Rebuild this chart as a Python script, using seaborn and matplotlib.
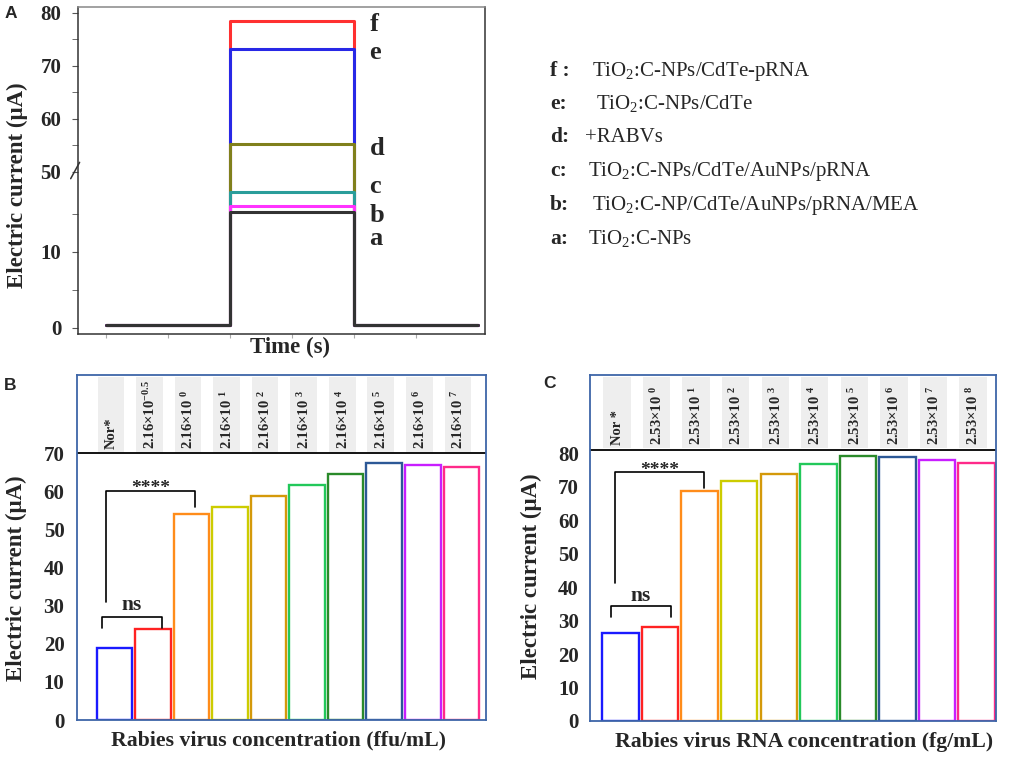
import numpy as np
import pandas as pd
import matplotlib
matplotlib.use("Agg")
import matplotlib.pyplot as plt
import seaborn as sns

# ---- panel A: photocurrent of each electrode stage (light on from t=2 to t=4) ----
curve_ids = ['f', 'e', 'd', 'c', 'b', 'a']
curve_on = [78.4, 73.1, 55.3, 17.9, 16.0, 15.2]
curve_off = 0.4
light_on, light_off, t_end = 2, 4, 6
curve_colors = ['#ff3030', '#2828e6', '#80801c', '#2a9d9a', '#ff33ff', '#333333']
curve_label_y = [76.5, 71.3, 53.2, 17.7, 13.9, 10.9]
curve_text = ['TiO$_\\mathregular{2}$:C-NPs/CdTe-pRNA',
              'TiO$_\\mathregular{2}$:C-NPs/CdTe',
              '+RABVs',
              'TiO$_\\mathregular{2}$:C-NPs/CdTe/AuNPs/pRNA',
              'TiO$_\\mathregular{2}$:C-NP/CdTe/AuNPs/pRNA/MEA',
              'TiO$_\\mathregular{2}$:C-NPs']
curve_keys = ['f :', 'e:', 'd:', 'c:', 'b:', 'a:']

# ---- panel B: virus concentration ----
b_groups = ['Nor*', '2.16×10$^{\\mathregular{-0.5}}$'] + \
           ['2.16×10 $^{\\mathregular{%d}}$' % k for k in range(0, 8)]
b_current = [19.0, 23.8, 54.0, 55.9, 58.7, 61.7, 64.6, 67.5, 66.8, 66.3]

# ---- panel C: viral RNA concentration ----
c_groups = ['Nor *'] + ['2.53×10 $^{\\mathregular{%d}}$' % k for k in range(0, 9)]
c_current = [26.2, 28.2, 68.7, 71.6, 73.6, 76.7, 79.2, 78.9, 78.0, 77.1]

bar_colors = ['#1a1aff', '#ff2222', '#ff8c1a', '#cccc00', '#d4990a',
              '#22c85a', '#2a8a2a', '#2c5896', '#c81eff', '#ff2a8a']

sns.set_style("ticks")
plt.rcParams['font.family'] = ['Liberation Serif', 'DejaVu Serif']
plt.rcParams['mathtext.fontset'] = 'custom'
plt.rcParams['mathtext.rm'] = 'Liberation Serif'
plt.rcParams['mathtext.it'] = 'Liberation Serif:italic'
plt.rcParams['mathtext.bf'] = 'Liberation Serif:bold'

W, H = 1013, 757
fig = plt.figure(figsize=(W / 100, H / 100), dpi=100)


def fx(px):
    return px / W


def fy(px):
    return 1 - px / H


# ---------------- panel A ----------------
rows = []
for cid, on in zip(curve_ids, curve_on):
    times = [0, light_on, light_on, light_off, light_off, t_end]
    vals = [curve_off, curve_off, on, on, curve_off, curve_off]
    for t, v in zip(times, vals):
        rows.append({'time': t, 'current': v, 'curve': cid})
df_a = pd.DataFrame(rows)

axa = fig.add_axes([fx(78), fy(334), fx(407), 327 / H])
sns.lineplot(data=df_a, x='time', y='current', hue='curve', hue_order=curve_ids,
             palette=dict(zip(curve_ids, curve_colors)), estimator=None, sort=False,
             linewidth=2.2, legend=False, ax=axa)


# broken y axis: 20-50 squeezed into a few pixels
def fwd(v):
    v = np.asarray(v, dtype=float)
    return np.where(v <= 20, 7.6 * v,
                    np.where(v <= 50, 152 + (v - 20) * 4 / 30, 156 + (v - 50) * 5.3))


def inv(s):
    s = np.asarray(s, dtype=float)
    return np.where(s <= 152, s / 7.6,
                    np.where(s <= 156, 20 + (s - 152) * 30 / 4, 50 + (s - 156) / 5.3))


axa.set_yscale('function', functions=(fwd, inv))
axa.set_ylim(-0.8, 81.1)
axa.set_xlim(-0.45, 6.11)
axa.set_yticks([0, 10, 50, 60, 70, 80])
axa.set_yticks([5, 15, 55, 65, 75], minor=True)
axa.set_yticklabels(['0', '10', '50', '60', '70', '80'])
axa.set_xticks(range(0, 6))
axa.set_xticklabels([])
axa.tick_params(axis='y', which='both', direction='out', length=4, color='#555555',
                labelsize=15, pad=8)
axa.tick_params(axis='x', direction='out', length=3, color='#aaaaaa')
for lab in axa.get_yticklabels():
    lab.set_fontweight('bold')
axa.set_xlabel('')
axa.set_ylabel('')
for side, sp in axa.spines.items():
    sp.set_visible(True)
    sp.set_color('#888888' if side == 'top' else '#333333')
    sp.set_linewidth(1.1)
axa.plot([-0.018, 0.004], [0.475, 0.525], transform=axa.transAxes, color='#333333',
         lw=1.1, clip_on=False)

for cid, ly in zip(curve_ids, curve_label_y):
    axa.text(4.25, ly, cid, ha='left', va='baseline', fontsize=19, fontweight='bold')

fig.text(fx(17), fy(185), 'Electric current (μA)', rotation=90, ha='center', va='center',
         fontsize=16.5, fontweight='bold')
fig.text(fx(290), fy(347), 'Time (s)', ha='center', va='center', fontsize=16.5,
         fontweight='bold')

# legend text on the right of panel A
key_base = [76, 109, 142, 176, 210, 244]
text_x = [592, 596, 585, 588, 592, 588]
for key, txt, yb, tx in zip(curve_keys, curve_text, key_base, text_x):
    fig.text(fx(550), fy(yb), key, ha='left', va='baseline', fontsize=15.5, fontweight='bold')
    fig.text(fx(tx), fy(yb), txt, ha='left', va='baseline', fontsize=15)


# ---------------- panels B and C ----------------
def bar_panel(rect, groups, values, xlim, ylim, top_line, head_bottom, head_h,
              yticks, brackets, stars_y, ns_y, ypad):
    ax = fig.add_axes(rect)
    df = pd.DataFrame({'group': groups, 'current': values})
    sns.barplot(data=df, x='group', y='current', hue='group', palette=bar_colors,
                fill=False, width=0.92, linewidth=1.7, errorbar=None, legend=False, ax=ax)
    pos = np.arange(len(groups))
    ax.bar(pos - 0.09, head_h, bottom=head_bottom, width=0.69, color='#eeeeee',
           zorder=0, linewidth=0)
    for p, g in zip(pos, groups):
        ax.text(p - 0.08, head_bottom + 0.8, g, rotation=90, ha='center', va='bottom',
                fontsize=10.5, fontweight='bold')
    ax.axhline(top_line, color='black', lw=1.3)
    ax.set_xlim(*xlim)
    ax.set_ylim(*ylim)
    ax.set_xticks([])
    ax.set_yticks(yticks)
    ax.tick_params(axis='y', length=0, labelsize=15, pad=ypad)
    for lab in ax.get_yticklabels():
        lab.set_fontweight('bold')
    ax.set_xlabel('')
    ax.set_ylabel('')
    for sp in ax.spines.values():
        sp.set_visible(True)
        sp.set_color('#3e66a8')
        sp.set_linewidth(1.3)
    (sx0, sx1, stop, sl, sr), (nx0, nx1, ntop, nl, nr) = brackets
    ax.plot([sx0, sx0, sx1, sx1], [sl, stop, stop, sr], color='black', lw=1.2)
    ax.plot([nx0, nx0, nx1, nx1], [nl, ntop, ntop, nr], color='black', lw=1.2)
    ax.text((sx0 + sx1) / 2, stars_y, '****', ha='center', va='baseline', fontsize=14,
            fontweight='bold')
    ax.text((nx0 + nx1) / 2, ns_y, 'ns', ha='center', va='baseline', fontsize=15.5,
            fontweight='bold')
    return ax


axb = bar_panel([fx(77), fy(720), fx(409), 345 / H], b_groups, b_current,
                (-0.97, 9.64), (0, 90.55), 70, 70.3, 19.7, range(0, 71, 10),
                [(-0.22, 2.09, 60.2, 31.0, 56.0), (-0.32, 1.23, 27.1, 24.1, 24.1)],
                59.6, 29.0, 9)
axc = bar_panel([fx(590), fy(721), fx(406), 346 / H], c_groups, c_current,
                (-0.77, 9.49), (0, 103.3), 81, 81.5, 21.2, range(0, 81, 10),
                [(-0.14, 2.11, 74.4, 41.1, 69.5), (-0.24, 1.28, 34.3, 31.0, 31.0)],
                73.4, 35.7, 8)

fig.text(fx(16.5), fy(578), 'Electric current (μA)', rotation=90, ha='center',
         va='center', fontsize=16.5, fontweight='bold')
fig.text(fx(531), fy(576), 'Electric current (μA)', rotation=90, ha='center',
         va='center', fontsize=16.5, fontweight='bold')
fig.text(fx(278), fy(740), 'Rabies virus concentration (ffu/mL)', ha='center',
         va='center', fontsize=15.7, fontweight='bold')
fig.text(fx(804), fy(742), 'Rabies virus RNA concentration (fg/mL)', ha='center',
         va='center', fontsize=15.7, fontweight='bold')

# panel letters
for letter, x, y in [('A', 11, 14), ('B', 10, 386), ('C', 549, 384)]:
    fig.text(fx(x), fy(y), letter, ha='center', va='center', fontsize=12.5,
             fontweight='bold', family='Liberation Sans')

fig.savefig('out.png', dpi=100)
